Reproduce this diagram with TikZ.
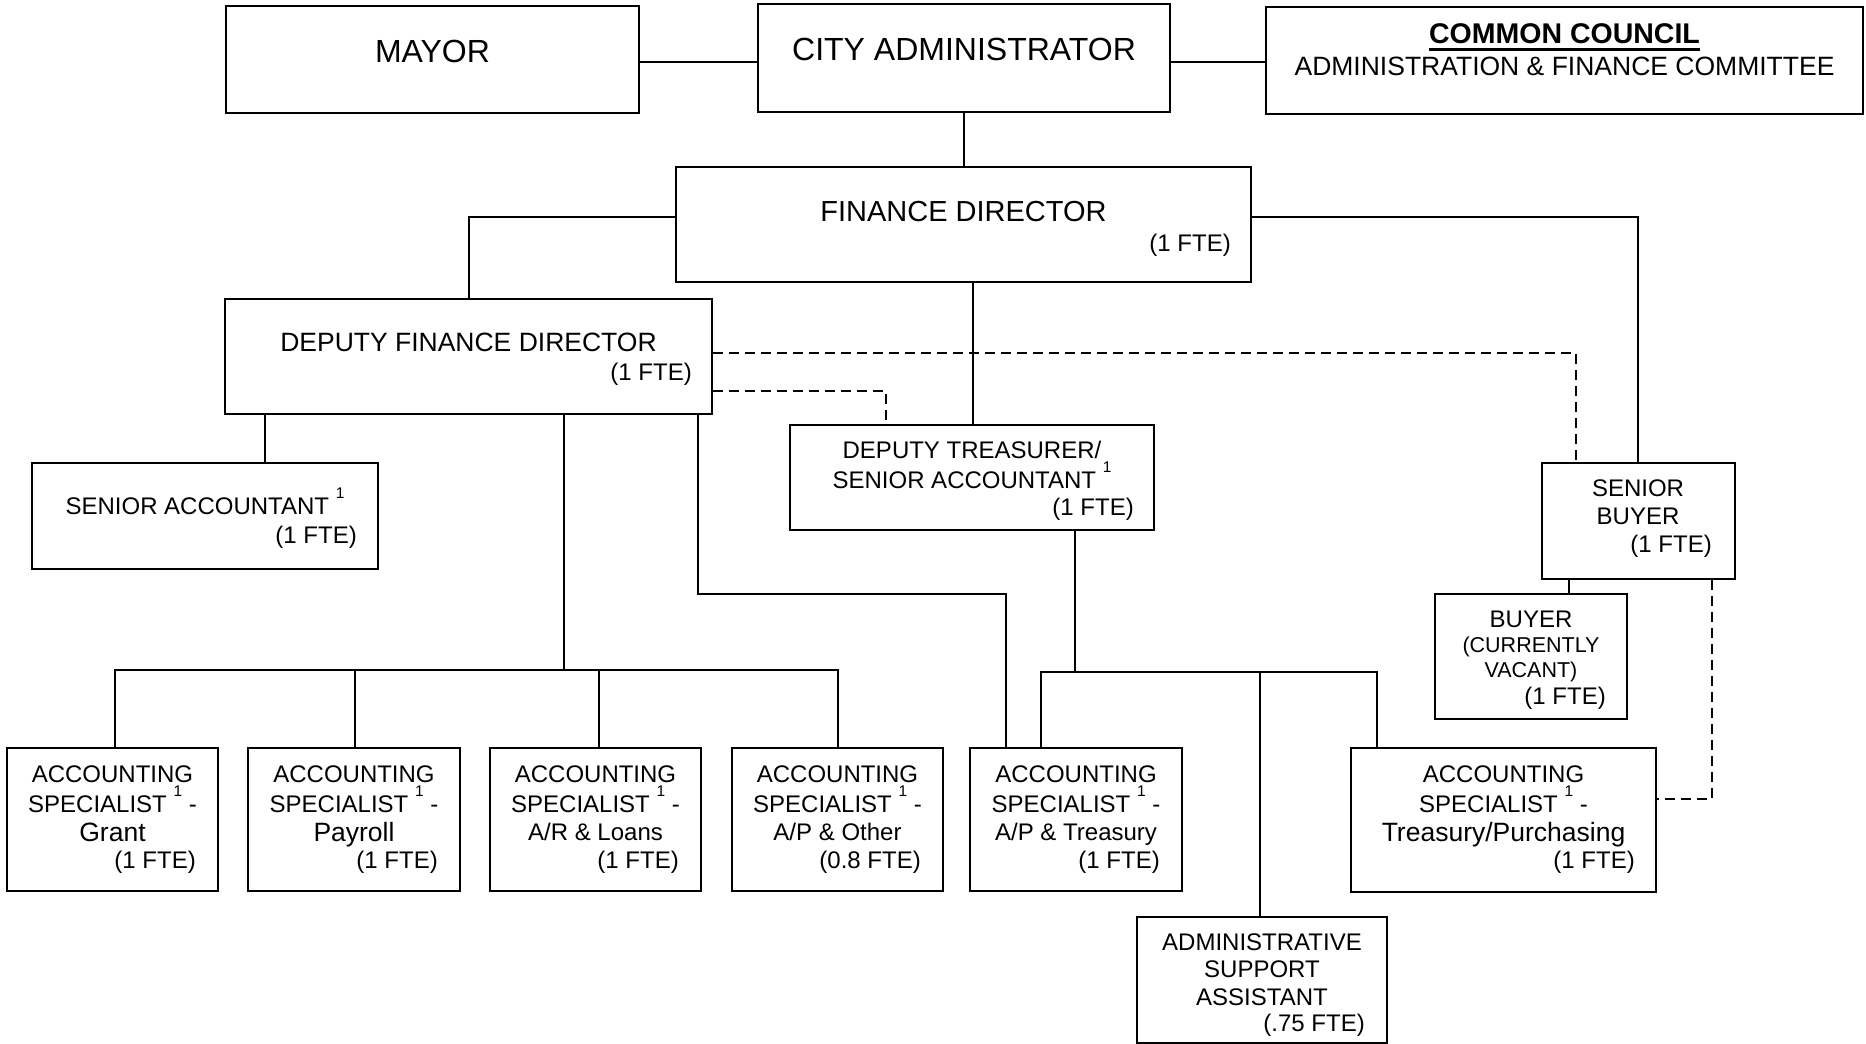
\documentclass[tikz,border=0pt]{standalone}
\usepackage{fontspec}
\setmainfont{Liberation Sans}
\usetikzlibrary{fit,calc}
\newcommand\supone{\raisebox{16pt}{\fontsize{15.5}{16}\selectfont 1}}
\tikzset{
  box/.style={draw, line width=2pt, inner sep=0pt, fit={#1}},
  conn/.style={line width=1.6pt},
  dconn/.style={line width=1.6pt, dash pattern=on 10pt off 6pt},
  t/.style={inner sep=0pt, anchor=base, font=\fontsize{24}{28}\selectfont},
  tb/.style={t, font=\fontsize{26.5}{30}\selectfont},
  fte/.style={t, anchor=base east},
}
\begin{document}
\begin{tikzpicture}[x=1pt,y=-1pt]
\useasboundingbox (0,0) rectangle (1866,1044);
% boxes
\node[box={(226,6) (639,113)}] (mayor) {};
\node[box={(758,4) (1170,112)}] (cityadm) {};
\node[box={(1266,7) (1863,114)}] (council) {};
\node[box={(676,167) (1251,282)}] (fd) {};
\node[box={(225,299) (712,414)}] (dfd) {};
\node[box={(790,425) (1154,530)}] (dt) {};
\node[box={(32,463) (378,569)}] (senacct) {};
\node[box={(1542,463) (1735,579)}] (sb) {};
\node[box={(1435,594) (1627,719)}] (buyer) {};
\node[box={(7,748) (218,891)}] (as1) {};
\node[box={(248,748) (460,891)}] (as2) {};
\node[box={(490,748) (701,891)}] (as3) {};
\node[box={(732,748) (943,891)}] (as4) {};
\node[box={(970,748) (1182,891)}] (as5) {};
\node[box={(1351,748) (1656,892)}] (as6) {};
\node[box={(1137,917) (1387,1043)}] (admin) {};

% texts
\node[t, font=\fontsize{32}{36}\selectfont] (mayort) at (432.5,62) {MAYOR};
\node[t, font=\fontsize{32}{36}\selectfont] (cityadmt) at (964,60) {CITY ADMINISTRATOR};
\node[t, font=\fontsize{28.5}{32}\selectfont\bfseries] (councilt) at (1564.5,43) {COMMON COUNCIL};
\draw[line width=2.8pt] ($(councilt.base west)+(0,6.5)$) -- ($(councilt.base east)+(0,6.5)$);
\node[tb] (councilt2) at (1564.5,75) {ADMINISTRATION \& FINANCE COMMITTEE};

\node[t, font=\fontsize{29}{33}\selectfont] (fdt) at (963.5,221) {FINANCE DIRECTOR};
\node[fte] (fdf) at (1231,251) {(1 FTE)};

\node[tb] (dfdt) at (468.5,351) {DEPUTY FINANCE DIRECTOR};
\node[fte] (dfdf) at (692,380) {(1 FTE)};

\node[t] (dtt1) at (972,458) {DEPUTY TREASURER/};
\node[t] (dtt2) at (972,488) {SENIOR ACCOUNTANT \supone};
\node[fte] (dtf) at (1134,515) {(1 FTE)};

\node[t] (sat) at (205,514) {SENIOR ACCOUNTANT \supone};
\node[fte] (saf) at (357,543) {(1 FTE)};

\node[t] (sbt1) at (1638,496) {SENIOR};
\node[t] (sbt2) at (1638,524) {BUYER};
\node[fte] (sbf) at (1712,552) {(1 FTE)};

\node[t] (bt1) at (1531,627) {BUYER};
\node[t, font=\fontsize{21.5}{25}\selectfont] (bt2) at (1531,652) {(CURRENTLY};
\node[t, font=\fontsize{21.5}{25}\selectfont] (bt3) at (1531,677) {VACANT)};
\node[fte] (bf) at (1606,704) {(1 FTE)};

% accounting specialists
\node[t] (a1a) at (112.5,782) {ACCOUNTING};
\node[t] (a1b) at (112.5,812) {SPECIALIST \supone{} -};
\node[tb] (a1c) at (112.5,841) {Grant};
\node[fte] (a1f) at (196,868) {(1 FTE)};

\node[t] (a2a) at (354,782) {ACCOUNTING};
\node[t] (a2b) at (354,812) {SPECIALIST \supone{} -};
\node[tb] (a2c) at (354,841) {Payroll};
\node[fte] (a2f) at (438,868) {(1 FTE)};

\node[t] (a3a) at (595.5,782) {ACCOUNTING};
\node[t] (a3b) at (595.5,812) {SPECIALIST \supone{} -};
\node[t] (a3c) at (595.5,840) {A/R \& Loans};
\node[fte] (a3f) at (679,868) {(1 FTE)};

\node[t] (a4a) at (837.5,782) {ACCOUNTING};
\node[t] (a4b) at (837.5,812) {SPECIALIST \supone{} -};
\node[t] (a4c) at (837.5,840) {A/P \& Other};
\node[fte] (a4f) at (921,868) {(0.8 FTE)};

\node[t] (a5a) at (1076,782) {ACCOUNTING};
\node[t] (a5b) at (1076,812) {SPECIALIST \supone{} -};
\node[t] (a5c) at (1076,840) {A/P \& Treasury};
\node[fte] (a5f) at (1160,868) {(1 FTE)};

\node[t] (a6a) at (1503.5,782) {ACCOUNTING};
\node[t] (a6b) at (1503.5,812) {SPECIALIST \supone{} -};
\node[tb] (a6c) at (1503.5,841) {Treasury/Purchasing};
\node[fte] (a6f) at (1635,868) {(1 FTE)};

\node[t] (adt1) at (1262,950) {ADMINISTRATIVE};
\node[t] (adt2) at (1262,977) {SUPPORT};
\node[t] (adt3) at (1262,1005) {ASSISTANT};
\node[fte] (adf) at (1365,1031) {(.75 FTE)};

% connectors
\draw[conn] (mayor.east |- 0,62) -- (cityadm.west |- 0,62);
\draw[conn] (cityadm.east |- 0,62) -- (council.west |- 0,62);
\draw[conn] (cityadm.south -| 964,0) -- (fd.north -| 964,0);
\draw[conn] (fd.west |- 0,217) -| (dfd.north -| 469,0);
\draw[conn] (fd.east |- 0,217) -| (sb.north -| 1638,0);
\draw[conn] (fd.south -| 973,0) -- (dt.north -| 973,0);
\draw[dconn] (dfd.east |- 0,353) -| (sb.north -| 1576,0);
\draw[dconn] (dfd.east |- 0,391) -| (dt.north -| 886,0);
\draw[conn] (dfd.south -| 265,0) -- (senacct.north -| 265,0);
\coordinate (jA) at (564,670);
\draw[conn] (dfd.south -| jA) -- (jA);
\draw[conn] (as1.north -| 115,0) |- (jA) -| (as4.north -| 838,0);
\draw[conn] (as2.north -| 355,0) -- (355,670);
\draw[conn] (as3.north -| 599,0) -- (599,670);
\draw[conn] (dfd.south -| 698,0) -- (698,594) -- (1006,594) -- (as5.north -| 1006,0);
\coordinate (jB) at (1075,672);
\draw[conn] (dt.south -| jB) -- (jB);
\draw[conn] (as5.north -| 1041,0) |- (jB) -| (as6.north -| 1377,0);
\draw[conn] (admin.north -| 1260,0) -- (1260,672);
\draw[conn] (sb.south -| 1569,0) -- (buyer.north -| 1569,0);
\draw[dconn] (sb.south -| 1712,0) |- (as6.east |- 0,799);
\end{tikzpicture}
\end{document}
